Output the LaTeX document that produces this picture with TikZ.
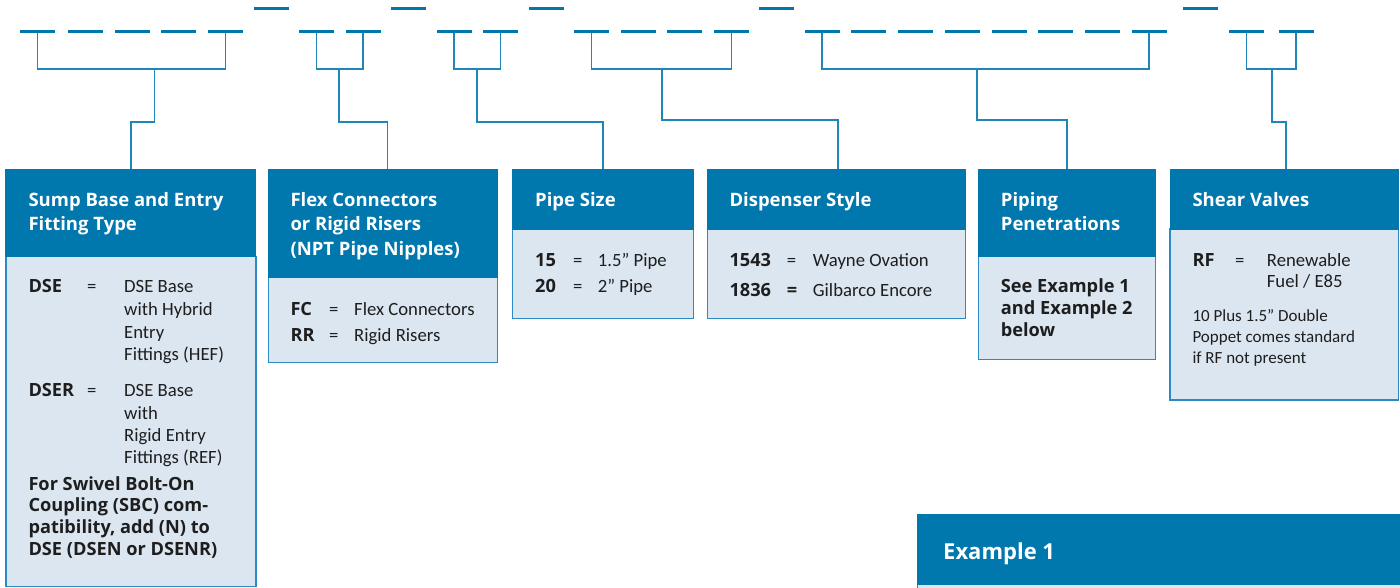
\documentclass[tikz,border=0pt]{standalone}
\usepackage{fontspec}
\setmainfont{Carlito}
\newfontfamily\osfont{Open Sans}
\definecolor{hblue}{HTML}{0077AD}
\definecolor{bfill}{HTML}{DCE6F1}
\definecolor{bline}{HTML}{2A8AC4}
\definecolor{txt}{HTML}{1E1E1E}
\tikzset{
 dashbar/.style={rectangle, fill=hblue, draw=none, minimum width=35pt, minimum height=3pt, inner sep=0pt, outer sep=0pt},
 conn/.style={draw=hblue!88, line width=1.7pt},
 hdr/.style={rectangle, fill=hblue, draw=hblue, line width=0.8pt, anchor=north west, inner sep=0pt, outer sep=0pt},
 bodybox/.style={rectangle, fill=bfill, draw=bline, line width=1.5pt, anchor=north west, inner sep=0pt, outer sep=0pt},
 ht/.style={anchor=base west, inner sep=0pt, text=white, font=\osfont\bfseries\fontsize{18.5}{22}\selectfont},
 bt/.style={anchor=base west, inner sep=0pt, text=txt, font=\fontsize{18.7}{22}\selectfont},
 bb/.style={anchor=base west, inner sep=0pt, text=txt, font=\osfont\bfseries\fontsize{18.2}{22}\selectfont},
 st/.style={anchor=base west, inner sep=0pt, text=txt, font=\fontsize{17}{20}\selectfont},
 ex/.style={anchor=base west, inner sep=0pt, text=white, font=\osfont\bfseries\fontsize{22}{26}\selectfont},
}
\begin{document}
\begin{tikzpicture}[x=1pt,y=-1pt]
\useasboundingbox (0,0) rectangle (1400,588);
% separators
\foreach \x [count=\i] in {271.1,408.5,546.1,776.9,1200.1}
  \node[dashbar] (s\i) at (\x,8.3) {};
% dash groups
\foreach \x [count=\i] in {37.5,85.5,132.5,178.5,225.5}
  \node[dashbar] (ga\i) at (\x,31.5) {};
\foreach \x [count=\i] in {316.5,363}
  \node[dashbar] (gb\i) at (\x,31.5) {};
\foreach \x [count=\i] in {454,500.5}
  \node[dashbar] (gc\i) at (\x,31.5) {};
\foreach \x [count=\i] in {591.5,638,684.5,731.5}
  \node[dashbar] (gd\i) at (\x,31.5) {};
\foreach \x [count=\i] in {822,868.7,915.5,962.3,1009,1055.8,1102.5,1149.3}
  \node[dashbar] (ge\i) at (\x,31.5) {};
\foreach \x [count=\i] in {1246.5,1296}
  \node[dashbar] (gf\i) at (\x,31.5) {};

% boxes: bodies
\node[bodybox, minimum width=250pt, minimum height=330pt] (b1) at (5.8,256.7) {};
\node[bodybox, minimum width=229.4pt, minimum height=85.4pt] (b2) at (268.3,277.3) {};
\node[bodybox, minimum width=180.6pt, minimum height=89.7pt] (b3) at (512.7,229) {};
\node[bodybox, minimum width=258.4pt, minimum height=89.7pt] (b4) at (707.3,229) {};
\node[bodybox, minimum width=177.4pt, minimum height=102.6pt] (b5) at (978.3,256.7) {};
\node[bodybox, minimum width=228.5pt, minimum height=171pt] (b6) at (1170,229) {};
\node[bodybox, minimum width=500pt, minimum height=40pt] (b7) at (917.3,584) {};
% headers
\node[hdr, minimum width=250pt, minimum height=87.7pt] (h1) at (5.8,169) {};
\node[hdr, minimum width=229.4pt, minimum height=108.3pt] (h2) at (268.3,169) {};
\node[hdr, minimum width=180.6pt, minimum height=60pt] (h3) at (512.7,169) {};
\node[hdr, minimum width=258.4pt, minimum height=60pt] (h4) at (707.3,169) {};
\node[hdr, minimum width=177.4pt, minimum height=87.7pt] (h5) at (978.3,169) {};
\node[hdr, minimum width=228.5pt, minimum height=60pt] (h6) at (1170,169) {};
\node[hdr, minimum width=500pt, minimum height=69.7pt] (h7) at (917.3,514.3) {};

% brackets
\draw[conn] (ga1.south) -- (ga1.south |- 0,69) -- (ga5.south |- 0,69) -- (ga5.south);
\draw[conn] (gb1.south) -- (gb1.south |- 0,69) -- (gb2.south |- 0,69) -- (gb2.south);
\draw[conn] (gc1.south) -- (gc1.south |- 0,69) -- (gc2.south |- 0,69) -- (gc2.south);
\draw[conn] (gd1.south) -- (gd1.south |- 0,69) -- (gd4.south |- 0,69) -- (gd4.south);
\draw[conn] (ge1.south) -- (ge1.south |- 0,69) -- (ge8.south |- 0,69) -- (ge8.south);
\draw[conn] (gf1.south) -- (gf1.south |- 0,69) -- (gf2.south |- 0,69) -- (gf2.south);
% stems
\coordinate (m1) at (154.5,69);  \coordinate (k1) at (130.8,122);
\coordinate (m2) at (338.8,69);  \coordinate (k2) at (387.5,122);
\coordinate (m3) at (477.2,69);  \coordinate (k3) at (602.7,122);
\coordinate (m4) at (662,69);    \coordinate (k4) at (838,120.3);
\coordinate (m5) at (977.2,69);  \coordinate (k5) at (1067,120);
\coordinate (m6) at (1271.9,69); \coordinate (k6) at (1285.7,121.7);
\draw[conn] (m1) |- (k1) -- (k1 |- h1.north);
\draw[conn] (m2) |- (k2) -- (k2 |- h2.north);
\draw[conn] (m3) |- (k3) -- (k3 |- h3.north);
\draw[conn] (m4) |- (k4) -- (k4 |- h4.north);
\draw[conn] (m5) |- (k5) -- (k5 |- h5.north);
\draw[conn] (m6) |- (k6) -- (k6 |- h6.north);

% header texts
\node[ht] (t11) at (28.3,206.7) {Sump Base and Entry};
\node[ht] (t12) at (28.3,231) {Fitting Type};
\node[ht] (t21) at (290.3,206.7) {Flex Connectors};
\node[ht] (t22) at (290.3,231) {or Rigid Risers};
\node[ht] (t23) at (290.3,255.5) {(NPT Pipe Nipples)};
\node[ht] (t31) at (535,206.7) {Pipe Size};
\node[ht] (t41) at (729.3,206.7) {Dispenser Style};
\node[ht] (t51) at (1000.7,206.7) {Piping};
\node[ht] (t52) at (1000.7,231) {Penetrations};
\node[ht] (t61) at (1192.3,206.7) {Shear Valves};
\node[ex] (t71) at (943,559) {Example 1};

% box 1 body
\node[bb] (a1) at (28.3,292.3) {DSE};
\node[bt] (a2) at (87,292.3) {=};
\node[bt] (a3) at (124,292.3) {DSE Base};
\node[bt] (a4) at (124,315) {with Hybrid};
\node[bt] (a5) at (124,338) {Entry};
\node[bt] (a6) at (124,360) {Fittings (HEF)};
\node[bb] (a7) at (28.3,396.7) {DSER};
\node[bt] (a8) at (87,396.7) {=};
\node[bt] (a9) at (124,396.7) {DSE Base};
\node[bt] (a10) at (124,419) {with};
\node[bt] (a11) at (124,441) {Rigid Entry};
\node[bt] (a12) at (124,463) {Fittings (REF)};
\node[bb] (a13) at (28.3,490) {For Swivel Bolt-On};
\node[bb] (a14) at (28.3,511.7) {Coupling (SBC) com-};
\node[bb] (a15) at (28.3,533.3) {patibility, add (N) to};
\node[bb] (a16) at (28.3,555.7) {DSE (DSEN or DSENR)};

% box 2 body
\node[bb] (c1) at (290.3,315) {FC};
\node[bt] (c2) at (329,315) {=};
\node[bt] (c3) at (354,315) {Flex Connectors};
\node[bb] (c4) at (290.3,341.7) {RR};
\node[bt] (c5) at (329,341.7) {=};
\node[bt] (c6) at (354,341.7) {Rigid Risers};

% box 3 body
\node[bb] (d1) at (535,266) {15};
\node[bt] (d2) at (573,266) {=};
\node[bt] (d3) at (597.7,266) {1.5” Pipe};
\node[bb] (d4) at (535,292.7) {20};
\node[bt] (d5) at (573,292.7) {=};
\node[bt] (d6) at (597.7,292.7) {2” Pipe};

% box 4 body
\node[bb] (e1) at (729.3,266) {1543};
\node[bt] (e2) at (786.7,266) {=};
\node[bt] (e3) at (812.7,266) {Wayne Ovation};
\node[bb] (e4) at (729.3,296.7) {1836};
\node[bb] (e5) at (786.7,296.7) {=};
\node[bt] (e6) at (812.7,296.7) {Gilbarco Encore};

% box 5 body
\node[bb] (f1) at (1000.7,292.3) {See Example 1};
\node[bb] (f2) at (1000.7,314.3) {and Example 2};
\node[bb] (f3) at (1000.7,336.7) {below};

% box 6 body
\node[bb] (p1) at (1192.3,266) {RF};
\node[bt] (p2) at (1235,266) {=};
\node[bt] (p3) at (1266.7,266) {Renewable};
\node[bt] (p4) at (1266.7,287.7) {Fuel / E85};
\node[st] (p5) at (1192.3,321) {10 Plus 1.5” Double};
\node[st] (p6) at (1192.3,342.7) {Poppet comes standard};
\node[st] (p7) at (1192.3,363.3) {if RF not present};
\end{tikzpicture}
\end{document}
